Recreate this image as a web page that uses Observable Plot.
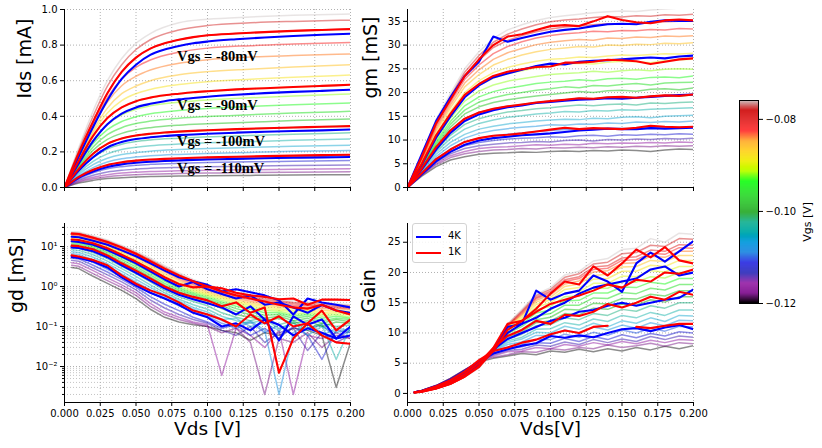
<!DOCTYPE html>
<html><head><meta charset="utf-8">
<script src="https://cdn.jsdelivr.net/npm/d3@7"></script>
<script src="https://cdn.jsdelivr.net/npm/@observablehq/plot@0.6"></script>
<style>body{margin:0;background:#fff}#fig{position:relative;width:822px;height:448px;background:#fff;font-family:"DejaVu Sans"}</style>
</head><body><div id="fig"></div>
<script>
// ---------- DATA ----------
const vgsRows = [-0.120,-0.118,-0.116,-0.114,-0.112,-0.110,-0.108,-0.106,-0.104,-0.102,-0.100,-0.098,-0.096,-0.094,-0.092,-0.090,-0.088,-0.086,-0.084,-0.082,-0.080,-0.078,-0.076];
const hiVgs = [-0.080,-0.090,-0.100,-0.110];
const annotLabels = ["Vgs = -80mV","Vgs = -90mV","Vgs = -100mV","Vgs = -110mV"];
const annotX = 0.0787;
const annotY = [0.736, 0.461, 0.258, 0.107];
const xTicks = [0,0.025,0.05,0.075,0.1,0.125,0.15,0.175,0.2];
const vgsTicks = [-0.12,-0.10,-0.08];

// Ids [mA]
const vdsIdsBg = [0,0.01,0.02,0.03,0.04,0.05,0.06,0.08,0.10,0.13,0.16,0.20];
const idsBg = [
[0,.025,.040,.050,.055,.059,.062,.064,.066,.068,.070,.072],
[0,.031,.049,.061,.068,.072,.075,.079,.081,.084,.086,.088],
[0,.036,.058,.072,.081,.086,.090,.094,.097,.100,.102,.105],
[0,.042,.069,.087,.097,.103,.108,.113,.116,.120,.123,.126],
[0,.050,.083,.105,.117,.125,.130,.136,.140,.144,.148,.152],
[0,.059,.098,.124,.139,.148,.154,.160,.165,.170,.175,.180],
[0,.066,.112,.143,.161,.171,.178,.186,.191,.197,.203,.208],
[0,.074,.128,.164,.185,.196,.204,.213,.219,.226,.232,.238],
[0,.083,.147,.189,.213,.226,.235,.244,.251,.258,.265,.272],
[0,.094,.168,.216,.243,.258,.267,.277,.285,.292,.299,.307],
[0,.105,.190,.245,.275,.292,.302,.314,.322,.329,.337,.345],
[0,.113,.209,.270,.304,.324,.336,.350,.358,.367,.376,.385],
[0,.121,.228,.297,.336,.359,.373,.389,.399,.409,.418,.428],
[0,.130,.247,.325,.371,.398,.414,.432,.444,.455,.465,.475],
[0,.139,.265,.353,.408,.440,.459,.479,.492,.504,.514,.525],
[0,.150,.290,.390,.450,.485,.505,.527,.541,.554,.565,.577],
[0,.155,.306,.418,.488,.527,.551,.578,.594,.608,.619,.632],
[0,.160,.320,.446,.527,.570,.600,.633,.651,.665,.677,.690],
[0,.176,.345,.480,.572,.625,.660,.698,.718,.733,.741,.750],
[0,.187,.355,.505,.610,.675,.716,.760,.783,.797,.806,.815],
[0,.196,.370,.530,.650,.730,.780,.830,.855,.870,.880,.890],
[0,.212,.400,.570,.690,.775,.830,.885,.910,.925,.933,.940],
[0,.225,.430,.600,.725,.810,.865,.925,.945,.958,.967,.975]];
const vdsIdsHi = [0,0.01,0.02,0.03,0.04,0.05,0.06,0.07,0.08,0.09,0.10,0.12,0.14,0.16,0.18,0.20];
const ids4K = [
[0,.175,.34,.49,.61,.69,.745,.775,.795,.81,.82,.833,.843,.851,.858,.864],
[0,.135,.26,.355,.415,.45,.47,.485,.495,.503,.51,.521,.53,.537,.543,.549],
[0,.095,.17,.225,.255,.272,.282,.289,.294,.298,.302,.308,.313,.317,.321,.326],
[0,.055,.09,.115,.13,.139,.145,.149,.152,.155,.157,.161,.164,.167,.169,.171]];
const ids1K = [
[0,.195,.37,.53,.65,.73,.78,.81,.83,.845,.855,.865,.873,.88,.885,.89],
[0,.15,.29,.39,.45,.485,.505,.518,.527,.535,.541,.551,.558,.565,.571,.577],
[0,.105,.19,.245,.275,.292,.302,.309,.314,.318,.322,.328,.333,.337,.341,.345],
[0,.06,.10,.127,.142,.151,.157,.161,.164,.167,.169,.173,.176,.179,.182,.184]];

// gm [mS]
const vdsGm = [0,0.01,0.02,0.03,0.04,0.05,0.06,0.07,0.08,0.09,0.10,0.11,0.12,0.13,0.14,0.15,0.16,0.17,0.18,0.19,0.20];
const gmBg = [
[0,2.4,4.4,5.8,6.5,7.0,7.2,7.3,7.5,7.4,7.6,7.7,7.6,7.8,7.7,7.9,7.8,7.6,7.9,8.1,8.0],
[0,2.6,4.8,6.3,7.1,7.6,7.9,8.0,8.2,8.1,8.4,8.3,8.5,8.4,8.6,8.5,8.7,8.6,8.8,8.7,8.8],
[0,2.7,5.1,6.7,7.6,8.2,8.5,8.6,8.8,9.0,8.9,9.1,9.0,9.3,9.2,9.4,9.3,9.5,9.4,9.6,9.5],
[0,2.8,5.4,7.1,8.2,8.8,9.1,9.4,9.5,9.7,9.6,9.9,10.0,9.8,10.1,10.0,10.2,10.1,10.3,10.2,10.4],
[0,2.9,5.7,7.6,8.8,9.5,9.9,10.2,10.4,10.5,10.7,10.6,10.9,11.0,10.8,11.1,11.0,11.2,11.1,11.3,11.2],
[0,3.0,6.0,8.1,9.6,10.4,10.9,11.2,11.5,11.8,12.0,12.2,12.1,12.4,12.3,12.5,12.4,12.6,12.5,12.7,12.7],
[0,3.2,6.5,8.8,10.4,11.4,12.0,12.4,12.7,12.9,13.2,13.1,13.4,13.3,13.6,13.5,13.8,13.7,13.9,13.8,14.0],
[0,3.4,7.0,9.5,11.2,12.3,12.9,13.4,13.7,14.0,14.2,14.4,14.3,14.6,14.5,14.8,14.9,14.7,15.0,15.1,15.2],
[0,3.6,7.5,10.3,12.3,13.5,14.2,14.8,15.1,15.5,15.7,16.0,15.9,16.2,16.1,16.4,16.3,16.5,16.6,16.7,16.8],
[0,3.8,7.9,11.0,13.3,14.5,15.3,15.9,16.2,16.6,16.8,17.1,17.4,17.2,17.5,17.6,17.4,17.8,17.7,17.9,18.0],
[0,4.0,8.5,12.0,14.5,15.8,16.6,17.1,17.5,17.9,18.2,18.5,18.8,18.7,19.0,19.1,18.9,19.2,19.4,19.3,19.5],
[0,4.2,8.9,12.7,15.5,17.0,17.9,18.5,18.9,19.3,19.6,19.9,20.2,20.0,20.4,20.5,20.3,20.7,20.8,20.6,21.0],
[0,4.4,9.3,13.3,16.3,18.0,18.9,19.6,20.0,20.5,20.8,21.2,21.0,21.5,21.4,21.7,21.9,21.6,22.0,22.1,22.2],
[0,4.6,9.7,13.9,17.2,19.1,20.2,20.9,21.4,21.9,22.2,22.4,22.7,22.5,22.9,23.0,22.8,23.2,23.3,23.1,23.5],
[0,4.8,10.2,14.6,18.2,20.3,21.6,22.4,22.9,23.4,23.8,24.0,24.2,24.5,24.3,24.6,24.8,24.6,24.9,25.0,24.9],
[0,5.0,10.8,15.3,19.2,21.5,23.0,24.0,24.6,25.2,25.6,26.0,26.2,26.0,26.4,26.6,26.5,26.3,26.7,26.9,27.0],
[0,5.2,11.2,16.0,20.0,22.5,24.2,25.3,26.0,26.6,27.0,27.2,27.5,27.4,27.7,27.9,27.8,28.0,28.2,28.1,28.3],
[0,5.5,11.8,16.8,21.2,23.8,25.8,27.0,27.9,28.6,29.1,29.4,29.7,29.6,30.0,29.9,30.2,30.1,30.4,30.3,30.5],
[0,5.8,12.3,17.4,22.0,24.8,27.0,28.4,29.3,30.1,30.6,30.9,31.2,31.0,31.5,31.4,31.7,31.6,31.9,31.8,32.0],
[0,6.0,12.8,18.0,22.8,25.8,28.2,29.7,30.7,31.5,32.0,32.4,32.6,32.9,32.8,33.1,33.0,33.3,33.2,33.5,33.4],
[0,6.3,13.3,18.6,23.5,26.8,29.5,31.0,32.0,32.8,33.4,33.8,34.0,34.3,34.5,34.4,34.7,34.6,34.9,35.0,35.0],
[0,6.6,13.8,19.2,24.3,27.8,30.6,32.3,33.4,34.3,34.9,35.3,35.5,35.8,36.0,35.9,36.2,36.1,36.4,36.3,36.5],
[0,6.9,14.3,19.8,25.0,28.6,31.4,33.2,34.3,35.2,35.8,36.2,36.5,36.8,37.0,37.2,37.1,37.4,37.6,37.8,38.0]];
const gm4K = [
[0,7,14,19,23.5,26.5,31.8,30.7,31.5,32.2,32.8,33.2,33.5,34.0,34.4,34.5,34.4,34.9,35.2,35.1,35.1],
[0,4.8,10.5,15,19,21.5,23.2,24.0,24.8,25.6,26.1,25.9,26.5,26.7,26.8,27.0,27.2,27.4,27.2,27.6,27.8],
[0,3.8,8,11.5,14,15.4,16.3,16.9,17.3,17.8,18.0,18.3,18.5,18.6,18.8,18.7,18.9,19.1,19.3,19.5,19.6],
[0,2.8,5.5,7.5,9.0,9.9,10.4,10.7,11.0,11.2,11.4,11.7,12.0,12.2,12.4,12.3,12.3,12.5,12.4,12.5,12.6]];
const gm1K = [
[0,6.5,13.5,18.5,23.5,27,30,31.8,32.3,33.2,34.0,34.2,34.0,35.0,36.1,35.3,34.8,34.6,35.2,35.4,35.2],
[0,5,11,15.5,19.5,21.8,23.5,24.4,24.9,25.4,25.5,26.3,26.3,26.5,26.9,26.8,26.6,26.0,26.5,27.0,27.2],
[0,4,8.5,12,14.5,15.8,16.6,17.1,17.5,17.9,18.2,18.5,18.8,18.7,19.0,19.1,18.9,19.2,19.4,19.3,19.6],
[0,3,6,8,9.6,10.4,10.9,11.1,11.4,11.8,12.2,12.6,12.3,12.5,12.4,12.3,12.6,13.0,12.8,12.7,12.8]];

// gd [mS] and Gain
const vdsG = [0.005,0.01,0.02,0.03,0.04,0.05,0.06,0.07,0.08,0.09,0.10,0.11,0.12,0.13,0.14,0.15,0.16,0.17,0.18,0.19,0.20];
const gdBg = [
[3.0,2.8,1.8,1.2,0.8,0.5,0.27,0.17,0.13,0.11,0.1,0.08,0.07,0.045,0.07,0.06,0.09,0.08,0.06,0.003,0.04],
[3.4,3.2,2.1,1.4,0.95,0.6,0.32,0.2,0.15,0.12,0.1,0.07,0.09,0.04,0.002,0.05,0.04,0.07,0.03,0.06,0.05],
[3.9,3.7,2.5,1.65,1.1,0.7,0.38,0.23,0.17,0.13,0.11,0.006,0.09,0.06,0.03,0.08,0.002,0.06,0.05,0.07,0.05],
[4.5,4.3,2.9,1.95,1.3,0.82,0.46,0.29,0.2,0.15,0.12,0.08,0.06,0.1,0.04,0.07,0.09,0.025,0.07,0.04,0.06],
[5.1,4.9,3.4,2.3,1.5,0.95,0.56,0.36,0.25,0.17,0.13,0.09,0.11,0.06,0.09,0.05,0.1,0.06,0.015,0.08,0.07],
[5.8,5.5,4.0,2.7,1.75,1.1,0.7,0.5,0.33,0.23,0.18,0.12,0.09,0.13,0.07,0.11,0.06,0.09,0.11,0.05,0.08],
[6.6,6.3,4.7,3.2,2.05,1.3,0.82,0.56,0.38,0.27,0.2,0.14,0.1,0.14,0.08,0.002,0.07,0.11,0.06,0.09,0.08],
[7.4,7.1,5.4,3.7,2.4,1.5,0.95,0.62,0.43,0.3,0.23,0.15,0.16,0.1,0.12,0.08,0.13,0.06,0.1,0.07,0.09],
[8.3,8.0,6.2,4.3,2.8,1.8,1.1,0.7,0.48,0.35,0.27,0.18,0.14,0.12,0.15,0.09,0.12,0.08,0.11,0.015,0.1],
[9.3,9.0,7.1,5.0,3.2,2.1,1.3,0.8,0.55,0.42,0.33,0.22,0.17,0.14,0.17,0.11,0.14,0.09,0.12,0.1,0.11],
[10.3,10.0,8.1,5.8,3.7,2.4,1.55,0.95,0.66,0.5,0.4,0.28,0.2,0.17,0.14,0.16,0.12,0.14,0.1,0.13,0.12],
[11.3,11.0,8.9,6.5,4.2,2.75,1.75,1.08,0.74,0.56,0.44,0.33,0.24,0.2,0.16,0.18,0.14,0.16,0.12,0.15,0.13],
[12.3,12.0,9.7,7.2,4.7,3.1,1.95,1.2,0.82,0.62,0.48,0.37,0.28,0.23,0.19,0.2,0.16,0.18,0.14,0.16,0.15],
[13.3,13.0,10.5,7.9,5.3,3.5,2.2,1.35,0.9,0.68,0.53,0.41,0.32,0.27,0.22,0.22,0.18,0.2,0.16,0.18,0.16],
[14.4,14.0,11.4,8.7,5.9,3.9,2.5,1.52,1.0,0.74,0.58,0.45,0.36,0.3,0.25,0.24,0.2,0.22,0.18,0.2,0.17],
[15.5,15.1,12.3,9.5,6.5,4.3,2.8,1.7,1.12,0.8,0.62,0.49,0.4,0.33,0.28,0.26,0.23,0.24,0.2,0.22,0.19],
[16.6,16.2,13.2,10.3,7.1,4.7,3.1,1.9,1.25,0.87,0.67,0.53,0.43,0.36,0.31,0.28,0.25,0.26,0.22,0.24,0.21],
[17.7,17.3,14.1,11.0,7.7,5.2,3.4,2.1,1.38,0.95,0.73,0.57,0.47,0.39,0.34,0.31,0.28,0.28,0.25,0.26,0.23],
[18.8,18.4,15.0,11.7,8.3,5.6,3.7,2.35,1.52,1.04,0.8,0.62,0.51,0.43,0.37,0.34,0.31,0.3,0.28,0.28,0.26],
[19.9,19.5,15.9,12.4,8.9,6.1,4.0,2.6,1.67,1.14,0.87,0.67,0.55,0.47,0.41,0.37,0.34,0.33,0.31,0.3,0.28],
[21.0,20.6,16.7,13.0,9.4,6.5,4.3,2.8,1.82,1.25,0.95,0.73,0.6,0.51,0.45,0.41,0.37,0.35,0.33,0.32,0.3],
[22.2,21.8,17.6,13.8,10.0,7.0,4.7,3.05,2.0,1.38,1.04,0.8,0.65,0.55,0.49,0.44,0.4,0.38,0.36,0.35,0.33],
[23.5,23.0,18.6,14.6,10.6,7.5,5.1,3.3,2.2,1.5,1.13,0.87,0.7,0.6,0.53,0.48,0.44,0.41,0.39,0.37,0.35]];
const gd4K = [
[17.5,17,14,11,8,5.7,3.8,2.5,1.7,1.35,1.1,0.75,0.85,0.72,0.6,0.45,0.2,0.5,0.4,0.35,0.3],
[13.5,13,11,8.2,5.6,3.8,2.4,1.5,1.0,1.3,0.85,0.65,0.5,0.6,0.35,0.4,0.3,0.22,0.35,0.25,0.22],
[9.5,9.2,7.6,5.4,3.4,2.2,1.4,0.9,0.62,0.48,0.38,0.3,0.2,0.32,0.15,0.045,0.18,0.11,0.15,0.05,0.1],
[5.5,5.2,4.2,3.0,1.7,1.05,0.7,0.5,0.35,0.22,0.17,0.1,0.12,0.08,0.15,0.11,0.06,0.09,0.07,0.05,0.06]];
const gd1K = [
[21,20.5,16.5,13,9.5,6.6,4.3,2.8,1.9,1.35,1.0,0.9,0.7,0.6,0.55,0.48,0.5,0.35,0.47,0.47,0.46],
[15,14.5,12,9,6.2,4.2,2.7,1.7,1.15,0.95,1.0,0.75,0.6,0.5,0.42,0.35,0.3,0.28,0.35,0.25,0.2],
[10.5,10.2,8.5,6.0,3.8,2.5,1.6,1.0,0.7,0.55,0.45,0.32,0.4,0.22,0.3,0.007,0.05,0.12,0.25,0.08,0.15],
[6.0,5.6,4.6,3.4,1.9,1.17,0.8,0.6,0.4,0.25,0.2,0.15,0.1,0.2,0.12,0.18,0.1,0.12,0.06,0.04,0.037]];
const gainBg = [
[0.25,0.5,1.3,2.5,3.9,5.2,5.8,6.2,6.6,6.4,7.0,6.8,7.3,6.9,7.4,7.0,7.6,7.2,7.8,7.4,7.9],
[0.25,0.5,1.3,2.5,3.9,5.3,6.0,6.4,6.9,6.8,7.4,7.2,7.6,7.4,8.0,7.6,7.9,8.3,7.8,8.4,8.2],
[0.25,0.5,1.3,2.4,3.9,5.3,6.2,6.9,7.0,7.6,7.4,8.1,7.8,8.4,8.0,8.6,8.2,8.8,8.4,8.9,8.8],
[0.25,0.5,1.3,2.4,3.8,5.3,6.4,7.1,7.3,8.0,7.8,8.5,8.1,8.9,8.4,9.0,8.6,9.4,8.9,9.5,9.3],
[0.25,0.5,1.2,2.3,3.8,5.3,6.6,7.4,7.7,8.4,8.3,9.1,8.6,9.4,8.9,9.7,9.2,9.9,9.5,10.2,10.0],
[0.2,0.45,1.2,2.3,3.7,5.3,6.8,7.7,8.1,8.9,8.9,9.8,9.3,10.1,9.6,10.5,10.0,10.8,10.3,11.1,11.0],
[0.2,0.45,1.2,2.2,3.7,5.3,7.0,8.1,8.5,9.6,9.6,10.5,10.0,11.0,10.5,11.3,10.8,11.7,11.2,12.1,12.0],
[0.2,0.45,1.1,2.2,3.6,5.2,7.1,8.4,9.0,10.1,10.0,11.1,10.6,11.6,11.0,12.0,11.6,12.5,11.9,12.9,12.8],
[0.2,0.45,1.1,2.1,3.6,5.2,7.2,8.7,9.3,10.6,10.7,11.7,11.3,12.3,11.9,12.9,12.5,13.4,12.9,13.8,13.8],
[0.2,0.4,1.1,2.1,3.5,5.1,7.3,9.0,9.8,11.2,11.4,12.5,12.2,13.2,12.9,13.9,13.6,14.5,14.1,15.0,15.0],
[0.2,0.4,1.0,2.0,3.4,5.0,7.3,9.3,10.2,11.7,12.0,13.2,13.0,14.1,13.9,14.8,14.6,15.5,15.1,16.0,16.0],
[0.2,0.4,1.0,2.0,3.4,5.0,7.3,9.6,10.6,12.2,12.6,13.9,13.8,14.9,14.8,15.7,15.6,16.4,16.1,17.0,17.0],
[0.2,0.4,1.0,1.9,3.3,4.9,7.3,9.9,11.1,12.8,13.2,14.6,14.6,15.8,15.7,16.7,16.5,17.4,17.1,18.0,18.0],
[0.2,0.4,0.95,1.9,3.2,4.8,7.3,10.1,11.5,13.3,13.8,15.3,15.4,16.6,16.6,17.6,17.5,18.4,18.1,19.0,19.0],
[0.2,0.35,0.95,1.8,3.1,4.7,7.3,10.4,11.9,13.8,14.4,16.0,16.1,17.4,17.4,18.5,18.4,19.3,19.1,20.0,20.0],
[0.2,0.35,0.9,1.8,3.0,4.6,7.2,10.6,12.3,14.3,15.0,16.6,16.8,18.2,18.2,19.4,19.3,20.3,20.1,21.0,21.0],
[0.2,0.35,0.9,1.7,3.0,4.5,7.2,10.8,12.6,14.7,15.5,17.2,17.5,18.9,19.0,20.2,20.2,21.2,21.0,22.0,22.0],
[0.15,0.35,0.85,1.7,2.9,4.5,7.1,11.0,12.9,15.1,15.9,17.7,18.1,19.5,19.7,20.9,21.0,22.0,21.8,22.8,22.8],
[0.15,0.3,0.85,1.6,2.9,4.4,7.1,11.1,13.1,15.4,16.3,18.1,18.6,20.1,20.3,21.5,21.6,22.7,22.5,23.5,23.5],
[0.15,0.3,0.8,1.6,2.8,4.4,7.0,11.2,13.3,15.7,16.6,18.5,19.0,20.5,20.7,22.0,22.1,23.2,23.0,24.1,24.0],
[0.15,0.3,0.8,1.6,2.8,4.3,7.0,11.3,13.5,15.9,16.9,18.8,19.3,20.9,21.1,22.4,22.6,23.7,23.5,24.6,24.5],
[0.15,0.3,0.8,1.5,2.7,4.3,6.9,11.4,13.7,16.2,17.2,19.2,19.8,21.4,21.7,23.1,23.3,24.5,24.3,25.6,25.5],
[0.15,0.3,0.75,1.5,2.7,4.2,6.9,11.5,13.9,16.4,17.5,19.6,20.2,21.9,22.3,23.8,24.0,25.6,25.0,26.5,26.3]];
const gain4K = [
[0.2,0.35,0.9,1.8,3.0,4.6,7.2,11.0,11.5,17.0,15.5,16.5,17.0,19.5,18.5,16.8,21.5,23.3,21.8,23.5,25.2],
[0.2,0.35,0.9,1.7,2.9,4.6,7.0,10.0,11.5,12.5,14.0,15.0,16.5,17.5,18.0,18.5,19.0,20.5,21.0,19.5,20.0],
[0.2,0.35,1.0,1.9,3.2,5.0,7.3,9.0,10.0,11.0,12.0,12.5,13.5,13.8,14.5,15.0,14.5,15.0,15.5,15.8,17.2],
[0.2,0.4,1.2,2.2,3.5,5.3,6.6,7.3,7.9,8.3,9.5,9.2,9.6,9.3,10.0,10.6,10.8,10.3,10.9,11.3,10.6]];
const gain1K = [
[0.15,0.3,0.8,1.6,2.8,4.4,7.5,11.5,12.0,14.0,16.5,18.5,18.0,21.0,19.5,21.5,23.8,22.5,24.2,22.0,21.5],
[0.15,0.3,0.8,1.6,2.8,4.5,7.0,10.5,12.0,13.5,14.8,15.5,16.2,17.0,18.0,17.5,18.8,18.5,20.0,19.8,20.5],
[0.2,0.35,1.0,1.9,3.2,5.0,7.5,9.5,10.5,12.0,11.5,13.0,12.8,13.5,14.8,14.2,15.0,16.0,15.5,16.8,16.3],
[0.2,0.4,1.2,2.2,3.6,5.5,7.0,7.6,8.4,8.9,9.8,10.4,10.0,11.0,11.2,NaN,11.0,10.8,11.2,11.5,11.5]];

// ---------- COLORMAP (nipy_spectral) ----------
const vmin = -0.12, vmax = -0.0759;
const cmapColors = ["#000000","#770088","#880099","#0000aa","#0000dd","#0077dd","#0099dd","#00aaaa","#00aa88","#009900","#00bb00","#00dd00","#00ff00","#bbff00","#eeee00","#ffcc00","#ff9900","#ff0000","#dd0000","#cc0000","#cccccc"];
const cmapStops = cmapColors.map((c, i) => vmin + i / 20 * (vmax - vmin));
const colorScale = {type: "linear", domain: cmapStops, range: cmapColors, interpolate: "rgb"};

// ---------- helpers ----------
const toLong = (xs, rows, zs) => rows.flatMap((r, i) => r.map((v, j) => ({x: xs[j], y: v, vgs: zs[i]})));
const gridStyle = {stroke: "#b0b0b0", strokeOpacity: 1, strokeDasharray: "1,2"};
const baseStyle = {fontFamily: "DejaVu Sans", fontSize: "10px", color: "black", background: "none", overflow: "visible"};

function panel(o) {
  const marks = [];
  if (o.yMinor) marks.push(Plot.gridY({ticks: o.yMinor, stroke: "#c4c4c4", strokeOpacity: 1, strokeDasharray: "1,2"}));
  marks.push(Plot.gridX({ticks: xTicks, ...gridStyle}));
  marks.push(Plot.gridY({ticks: o.yTicks, ...gridStyle}));
  marks.push(Plot.line(o.bg, {x: "x", y: "y", z: "vgs", stroke: "vgs", strokeOpacity: 0.45, strokeWidth: 1.5, curve: o.curve, clip: true}));
  marks.push(Plot.line(o.hi4, {x: "x", y: "y", z: "vgs", stroke: "#0000ff", strokeWidth: 2.1, curve: o.curve, clip: true}));
  marks.push(Plot.line(o.hi1, {x: "x", y: "y", z: "vgs", stroke: "#ff0000", strokeWidth: 2.1, curve: o.curve, clip: true}));
  marks.push(Plot.ruleX([0], {stroke: "black", strokeWidth: 1}));
  marks.push(Plot.ruleY([o.yDomain[0]], {stroke: "black", strokeWidth: 1}));
  if (o.yMinor) marks.push(Plot.axisY({ticks: o.yMinor, tickSize: 2, tickFormat: () => "", label: null}));
  marks.push(Plot.axisX({ticks: xTicks, tickSize: 4, tickPadding: 3, tickFormat: o.xLabel ? d3.format(".3f") : () => "", label: null}));
  marks.push(Plot.axisY({ticks: o.yTicks, tickSize: 4, tickPadding: 3, tickFormat: o.yFormat, label: null}));
  marks.push(Plot.text([o.yLabel], {text: d => d, frameAnchor: "left", dx: o.yLabelDx, rotate: -90, fontSize: 19}));
  if (o.xLabel) marks.push(Plot.text([o.xLabel], {text: d => d, frameAnchor: "bottom", dy: 32, fontSize: 18.5}));
  if (o.extra) marks.push(...o.extra);
  const p = Plot.plot({
    width: o.w, height: o.h,
    marginLeft: o.ml, marginRight: o.mr, marginTop: o.mt, marginBottom: o.mb,
    x: {domain: [0, 0.2]},
    y: {type: o.yType || "linear", domain: o.yDomain},
    color: colorScale,
    style: baseStyle,
    marks
  });
  p.style.position = "absolute"; p.style.left = o.left + "px"; p.style.top = o.top + "px";
  return p;
}

const fig = document.getElementById("fig");

// Ids
const annots = annotLabels.map((t, i) => ({t, x: annotX, y: annotY[i]}));
fig.appendChild(panel({
  left: 0, top: 0, w: 355, h: 200, ml: 64, mr: 5, mt: 9, mb: 13,
  yDomain: [0, 1], yTicks: [0, 0.2, 0.4, 0.6, 0.8, 1.0], yFormat: d3.format(".1f"),
  bg: toLong(vdsIdsBg, idsBg, vgsRows), hi4: toLong(vdsIdsHi, ids4K, hiVgs), hi1: toLong(vdsIdsHi, ids1K, hiVgs),
  curve: "monotone-x", yLabel: "Ids [mA]", yLabelDx: -40,
  extra: [Plot.text(annots, {x: "x", y: "y", text: "t", textAnchor: "start", fontFamily: "Liberation Serif", fontWeight: "bold", fontSize: 14.5, fill: "black"})]
}));

// gm
fig.appendChild(panel({
  left: 350, top: 0, w: 350, h: 200, ml: 57, mr: 7, mt: 9, mb: 13,
  yDomain: [0, 37.5], yTicks: [0, 5, 10, 15, 20, 25, 30, 35], yFormat: d3.format("d"),
  bg: toLong(vdsGm, gmBg, vgsRows), hi4: toLong(vdsGm, gm4K, hiVgs), hi1: toLong(vdsGm, gm1K, hiVgs),
  curve: "linear", yLabel: "gm [mS]", yLabelDx: -37
}));

// gd (log)
const supers = {"-3": "10⁻³", "-2": "10⁻²", "-1": "10⁻¹", "0": "10⁰", "1": "10¹"};
const minorTicks = [];
for (let e = -3; e <= 1; e++) for (let m = 2; m <= 9; m++) { const v = m * Math.pow(10, e); if (v > Math.pow(10, -2.9) && v < Math.pow(10, 1.575)) minorTicks.push(v); }
fig.appendChild(panel({
  left: 0, top: 210, w: 355, h: 238, ml: 64, mr: 5, mt: 13, mb: 46,
  yType: "log", yDomain: [Math.pow(10, -2.9), Math.pow(10, 1.575)], yTicks: [0.01, 0.1, 1, 10],
  yFormat: d => supers[String(Math.round(Math.log10(d)))], yMinor: minorTicks,
  bg: toLong(vdsG, gdBg, vgsRows), hi4: toLong(vdsG, gd4K, hiVgs), hi1: toLong(vdsG, gd1K, hiVgs),
  curve: "linear", yLabel: "gd [mS]", yLabelDx: -48, xLabel: "Vds [V]"
}));

// Gain
fig.appendChild(panel({
  left: 350, top: 210, w: 350, h: 238, ml: 57, mr: 7, mt: 13, mb: 46,
  yDomain: [-1.5, 28.1], yTicks: [0, 5, 10, 15, 20, 25], yFormat: d3.format("d"),
  bg: toLong(vdsG, gainBg, vgsRows), hi4: toLong(vdsG, gain4K, hiVgs), hi1: toLong(vdsG, gain1K, hiVgs),
  curve: "linear", yLabel: "Gain", yLabelDx: -39, xLabel: "Vds[V]"
}));

// legend
const leg = document.createElement("div");
leg.style.cssText = "position:absolute;left:412px;top:223px;width:53px;height:38px;border:1px solid #d3d3d3;border-radius:3px;background:rgba(255,255,255,0.85);font:10px 'DejaVu Sans';color:#000";
leg.innerHTML = '<div style="position:absolute;left:3px;top:12px;width:25px;height:2px;background:#0000ff"></div><div style="position:absolute;left:35px;top:6px">4K</div>' +
                '<div style="position:absolute;left:3px;top:28px;width:25px;height:2px;background:#ff0000"></div><div style="position:absolute;left:35px;top:22px">1K</div>';
fig.appendChild(leg);

// colorbar
const nSteps = 200, stepH = (vmax - vmin) / nSteps;
const cbVals = d3.range(nSteps).map(i => vmin + (i + 0.5) * stepH);
const cb = Plot.plot({
  width: 92, height: 225, marginLeft: 9, marginRight: 64, marginTop: 10, marginBottom: 12,
  x: {domain: [0, 1], axis: null},
  y: {domain: [vmin, vmax]},
  color: colorScale,
  style: baseStyle,
  marks: [
    Plot.rect(cbVals, {x1: 0, x2: 1, y1: d => d - stepH / 2 - 1e-6, y2: d => d + stepH / 2 + 1e-6, fill: d => d}),
    Plot.frame({stroke: "black"}),
    Plot.axisY({anchor: "right", ticks: vgsTicks, tickSize: 4, tickPadding: 3, tickFormat: d => "\u2212" + Math.abs(d).toFixed(2), label: null}),
    Plot.text(["Vgs [V]"], {text: d => d, frameAnchor: "right", dx: 49, rotate: -90, fontSize: 11})
  ]
});
cb.style.position = "absolute"; cb.style.left = "730px"; cb.style.top = "90px";
fig.appendChild(cb);
</script></body></html>
